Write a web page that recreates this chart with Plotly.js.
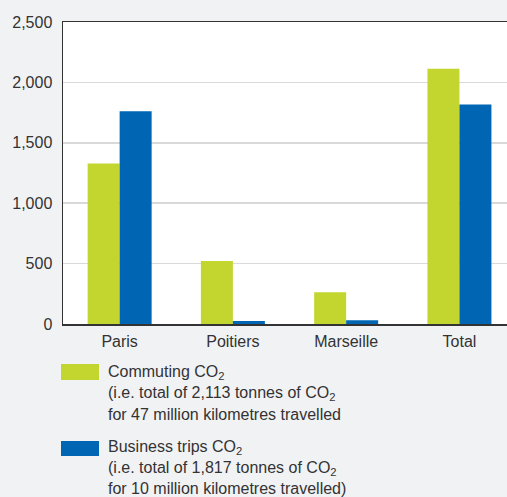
<!DOCTYPE html>
<html>
<head>
<meta charset="utf-8">
<script src="https://cdn.plot.ly/plotly-3.0.1.min.js"></script>
<style>
html,body{margin:0;padding:0;background:#f1f2f4;}
#chart{width:507px;height:497px;}
</style>
</head>
<body>
<div id="chart"></div>
<script>
var categories = ["Paris", "Poitiers", "Marseille", "Total"];
var commuting = [1328, 522, 263, 2113];
var business = [1761, 25, 31, 1817];
var yTickVals = [0, 500, 1000, 1500, 2000, 2500];
var yTickText = ["0", "500", "1,000", "1,500", "2,000", "2,500"];
var legendCommuting = ["Commuting CO<sub>2</sub>", "(i.e. total of 2,113 tonnes of CO<sub>2</sub>", "for 47 million kilometres travelled"];
var legendBusiness = ["Business trips CO<sub>2</sub>", "(i.e. total of 1,817 tonnes of CO<sub>2</sub>", "for 10 million kilometres travelled)"];

var GREEN = "#c2d62f", BLUE = "#0066b3";
var FONT = "Liberation Sans, Arial, sans-serif";
var W = 507, H = 497, ML = 63, MR = 0, MT = 22, MB = 173;
var PW = W - ML - MR, PH = H - MT - MB;
function px(x){ return (x - ML) / PW; }
function py(y){ return 1 - (y - MT) / PH; }

var traces = [
  {type: "bar", x: categories, y: commuting, marker: {color: GREEN}, name: "Commuting", hoverinfo: "x+y"},
  {type: "bar", x: categories, y: business, marker: {color: BLUE}, name: "Business trips", hoverinfo: "x+y"}
];

var shapes = [
  {type: "rect", xref: "paper", yref: "paper", x0: px(61), x1: px(99), y0: py(364), y1: py(380), fillcolor: GREEN, line: {width: 0}},
  {type: "rect", xref: "paper", yref: "paper", x0: px(61), x1: px(99), y0: py(441), y1: py(456), fillcolor: BLUE, line: {width: 0}}
];

var annotations = [];
function addLines(lines, centers){
  lines.forEach(function(t, i){
    annotations.push({xref: "paper", yref: "paper", x: px(106), y: py(centers[i]), xanchor: "left", yanchor: "middle",
      text: t, showarrow: false, align: "left", font: {family: FONT, size: 16, color: "#333333"}});
  });
}
addLines(legendCommuting, [372, 393, 414]);
addLines(legendBusiness, [447, 468, 488]);

var layout = {
  width: W, height: H,
  margin: {l: ML, r: MR, t: MT, b: MB, pad: 0},
  paper_bgcolor: "#f1f2f4",
  plot_bgcolor: "#ffffff",
  showlegend: false,
  barmode: "group",
  bargap: 0.435,
  bargroupgap: 0,
  font: {family: FONT, size: 16, color: "#333333"},
  xaxis: {
    range: [-0.5, 3.42], fixedrange: true,
    showline: true, linecolor: "#333333", linewidth: 1.5, mirror: true,
    showgrid: false, ticks: "", ticklabelstandoff: 2,
    tickfont: {family: FONT, size: 16, color: "#333333"}
  },
  yaxis: {
    range: [0, 2500], fixedrange: true,
    tickvals: yTickVals, ticktext: yTickText,
    showline: true, linecolor: "#333333", linewidth: 1.5,
    showgrid: true, gridcolor: "#d9d9d9", gridwidth: 1.5,
    zeroline: false, ticks: "", ticklabelstandoff: 6,
    tickfont: {family: FONT, size: 16, color: "#333333"}
  },
  shapes: shapes,
  annotations: annotations
};

Plotly.newPlot("chart", traces, layout, {displayModeBar: false, staticPlot: true});
</script>
</body>
</html>
